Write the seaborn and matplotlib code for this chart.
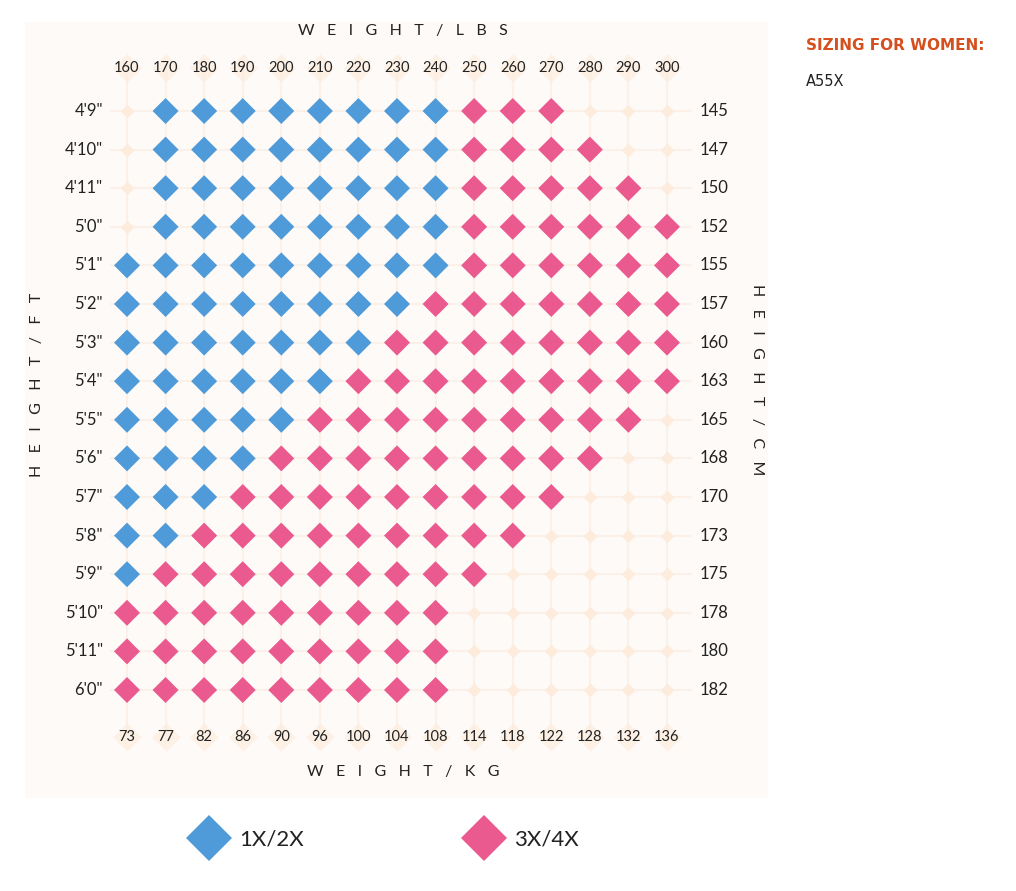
import numpy as np
import pandas as pd
import seaborn as sns
import matplotlib.pyplot as plt
from matplotlib.lines import Line2D

# chart data
weights_lbs = [160, 170, 180, 190, 200, 210, 220, 230, 240, 250, 260, 270, 280, 290, 300]
weights_kg = [73, 77, 82, 86, 90, 96, 100, 104, 108, 114, 118, 122, 128, 132, 136]
heights_ft = ["4'9\"", "4'10\"", "4'11\"", "5'0\"", "5'1\"", "5'2\"", "5'3\"", "5'4\"",
              "5'5\"", "5'6\"", "5'7\"", "5'8\"", "5'9\"", "5'10\"", "5'11\"", "6'0\""]
heights_cm = [145, 147, 150, 152, 155, 157, 160, 163, 165, 168, 170, 173, 175, 178, 180, 182]
# B = 1X/2X, P = 3X/4X, - = no size
size_rows = [
    "-BBBBBBBBPPP---",
    "-BBBBBBBBPPPP--",
    "-BBBBBBBBPPPPP-",
    "-BBBBBBBBPPPPPP",
    "BBBBBBBBBPPPPPP",
    "BBBBBBBBPPPPPPP",
    "BBBBBBBPPPPPPPP",
    "BBBBBBPPPPPPPPP",
    "BBBBBPPPPPPPPP-",
    "BBBBPPPPPPPPP--",
    "BBBPPPPPPPPP---",
    "BBPPPPPPPPP----",
    "BPPPPPPPPP-----",
    "PPPPPPPPP------",
    "PPPPPPPPP------",
    "PPPPPPPPP------",
]
size_names = {"B": "1X/2X", "P": "3X/4X", "-": "none"}

blue = "#4f9bd9"
pink = "#ea5a8f"
faint = "#fdebdb"
gridc = "#fcf1e8"
panel = "#fdfaf7"
txt = "#222222"

recs = []
for r, row in enumerate(size_rows):
    for c, ch in enumerate(row):
        recs.append({"col": c, "row": r, "size": size_names[ch]})
df = pd.DataFrame(recs)

sns.set_theme(style="white")
plt.rcParams["font.family"] = ["Lato", "DejaVu Sans"]

fig = plt.figure(figsize=(10.16, 8.91), dpi=100)
W, H = 1016, 891
# panel from px (25,22) to (768,798)
ax = fig.add_axes([25 / W, 1 - 798 / H, 743 / W, 776 / H])
ax.set_facecolor(panel)
for s in ax.spines.values():
    s.set_visible(False)
ax.set_xticks([])
ax.set_yticks([])

dx = 540 / 14
dy = 579 / 15
ax.set_xlim((25 - 127) / dx, (768 - 127) / dx)
ax.set_ylim((798 - 111) / dy, (22 - 111) / dy)

ncol = len(weights_lbs)
nrow = len(heights_ft)
top_y = (68 - 111) / dy
bot_y = (737 - 111) / dy
left_x = (103 - 127) / dx
right_x = (700 - 127) / dx

# faint grid lines
ax.vlines(range(ncol), top_y, bot_y, color=gridc, lw=1.5, zorder=1)
ax.hlines(range(nrow), -0.45, right_x - 0.2, color=gridc, lw=1.5, zorder=1)

# faint diamonds behind the weight labels
lab = pd.DataFrame({"col": list(range(ncol)) * 2,
                    "row": [top_y] * ncol + [bot_y] * ncol})
sns.scatterplot(data=lab, x="col", y="row", marker="D", s=210, color=faint,
                linewidth=0, alpha=0.6, ax=ax, zorder=2, legend=False)

# empty cells
sns.scatterplot(data=df[df["size"] == "none"], x="col", y="row", marker="D", s=48,
                color=faint, linewidth=0, ax=ax, zorder=2, legend=False)

# size cells
sns.scatterplot(data=df[df["size"] != "none"], x="col", y="row", hue="size",
                palette={"1X/2X": blue, "3X/4X": pink}, marker="D", s=175,
                linewidth=0, ax=ax, zorder=3, legend=False)
ax.set_xlabel("")
ax.set_ylabel("")

for c in range(ncol):
    ax.text(c, top_y, str(weights_lbs[c]), ha="center", va="center", fontsize=10.5, color=txt, zorder=4)
    ax.text(c, bot_y, str(weights_kg[c]), ha="center", va="center", fontsize=10.5, color=txt, zorder=4)
for r in range(nrow):
    ax.text(left_x, r, heights_ft[r], ha="right", va="center", fontsize=12, color=txt, zorder=4)
    ax.text(right_x, r, str(heights_cm[r]), ha="left", va="center", fontsize=12, color=txt, zorder=4)

def spaced(s):
    return "   ".join(s)

ax.text((403 - 127) / dx, (31 - 111) / dy, spaced("WEIGHT/LBS"), ha="center", va="center",
        fontsize=11.5, color=txt)
ax.text((403 - 127) / dx, (772 - 111) / dy, spaced("WEIGHT/KG"), ha="center", va="center",
        fontsize=11.5, color=txt)
ax.text((37 - 127) / dx, (385 - 111) / dy, spaced("HEIGHT/FT"), ha="center", va="center",
        fontsize=11.5, color=txt, rotation=90)
ax.text((757 - 127) / dx, (380 - 111) / dy, spaced("HEIGHT/CM"), ha="center", va="center",
        fontsize=11.5, color=txt, rotation=-90)

# legend below the panel
for name, col, x0 in [("1X/2X", blue, 187), ("3X/4X", pink, 462)]:
    h = Line2D([], [], marker="D", linestyle="none", markersize=23, color=col, markeredgewidth=0)
    fig.legend(handles=[h], labels=[name], loc="center left",
               bbox_to_anchor=(x0 / W, 1 - 840 / H), frameon=False, fontsize=16,
               handlelength=2, handletextpad=0.35, borderpad=0, borderaxespad=0,
               labelcolor=txt)

fig.text(806 / W, 1 - 45 / H, "SIZING FOR WOMEN:", ha="left", va="center", fontsize=11,
         fontweight="bold", color="#d4501f", family=["DejaVu Sans"])
fig.text(806 / W, 1 - 81 / H, "A55X", ha="left", va="center", fontsize=10.5,
         color=txt, family=["DejaVu Sans"])

fig.savefig("out.png", dpi=100, facecolor="white")
